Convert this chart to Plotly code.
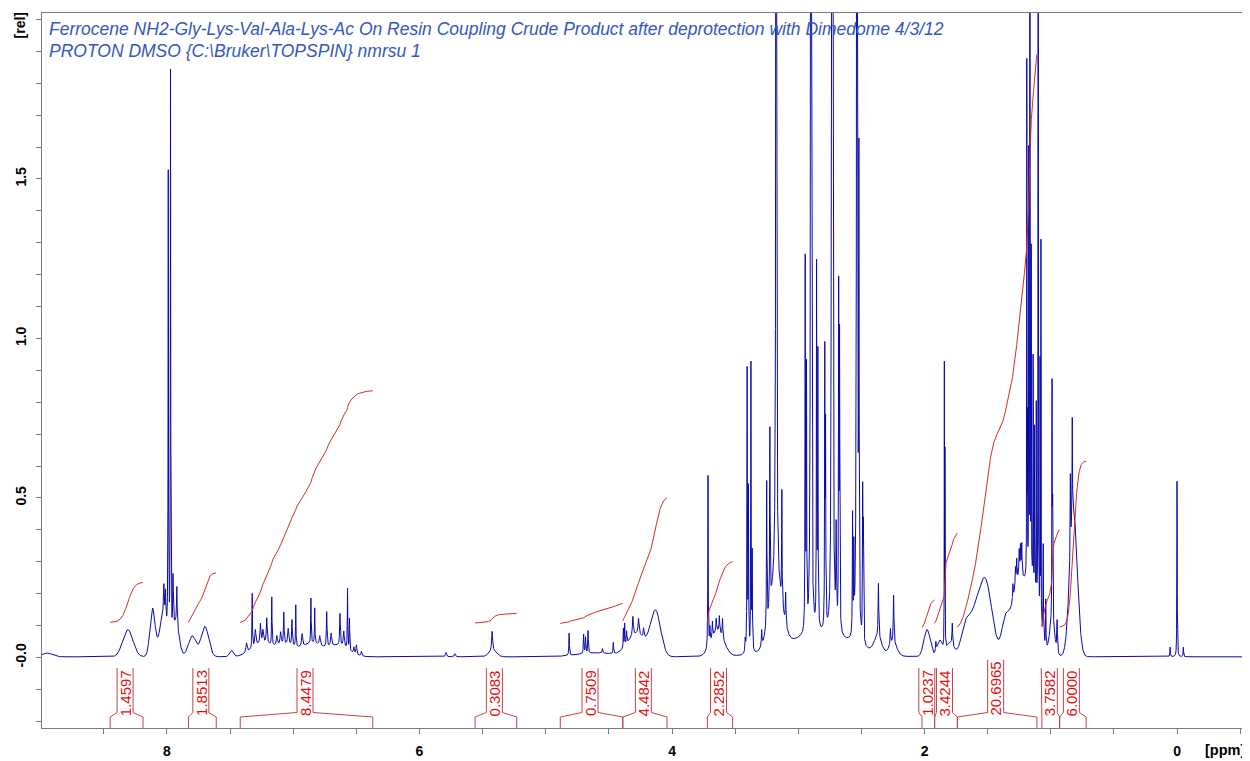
import numpy as np
import plotly.graph_objects as go

# ---------------- data ----------------
# sharp lines (Lorentzian): position [ppm], height [rel], half width [ppm]
line_ppm = [8.025, 8.012, 7.990, 7.972, 7.952, 7.922,
            7.370, 7.325, 7.300, 7.260, 7.240, 7.210, 7.170, 7.130, 7.100,
            7.075, 7.040, 7.010, 6.980, 6.930, 6.860, 6.830,
            6.790, 6.735, 6.700, 6.630, 6.600,
            6.570, 6.555, 6.520, 6.500, 6.460,
            5.790, 5.720, 5.425,
            4.815, 4.700, 4.685, 4.665, 4.550, 4.465,
            4.385, 4.375, 4.360, 4.310, 4.265, 4.225,
            3.715, 3.700, 3.680, 3.650, 3.625, 3.600,
            3.420, 3.405, 3.395, 3.375, 3.365,
            3.290, 3.250, 3.225, 3.175, 3.130, 3.100,
            2.945, 2.935, 2.900, 2.895, 2.855, 2.845,
            2.790, 2.784, 2.735, 2.727, 2.700, 2.680, 2.673,
            2.570, 2.560, 2.535, 2.520, 2.490, 2.485,
            2.365, 2.270, 2.245,
            1.910, 1.843, 1.838, 1.780,
            1.300, 1.280, 1.270, 1.250, 1.240, 1.230,
            1.190, 1.185, 1.175, 1.165, 1.155, 1.140, 1.128, 1.115, 1.100,
            1.085, 1.078, 1.060, 1.040,
            0.990, 0.985, 0.950, 0.845, 0.830,
            0.055, 0.000, -0.050]
line_height = [0.10, 0.09, 1.45, 1.78, 0.17, 0.12,
               0.03, 0.17, 0.05, 0.06, 0.04, 0.08, 0.15, 0.03, 0.04,
               0.10, 0.05, 0.08, 0.13, 0.04, 0.14, 0.11,
               0.03, 0.11, 0.04, 0.10, 0.05,
               0.19, 0.10, 0.02, 0.03, 0.015,
               0.014, 0.010, 0.060,
               0.070, 0.060, 0.050, 0.070, 0.015, 0.035,
               0.060, 0.070, 0.040, 0.060, 0.050, 0.030,
               0.54, 0.05, 0.05, 0.04, 0.05, 0.06,
               0.04, 0.88, 0.50, 0.90, 0.30,
               0.05, 0.45, 0.55, 4.00, 0.35, 0.10,
               1.15, 0.80, 4.00, 1.00, 1.12, 0.85,
               0.84, 0.60, 4.00, 4.00, 0.30, 1.04, 0.90,
               0.37, 0.25, 5.00, 1.40, 0.45, 0.33,
               0.17, 0.05, 0.15,
               0.03, 0.88, 0.60, 0.07,
               0.05, 0.06, 0.07, 0.08, 0.09, 0.10,
               1.60, 0.45, 1.30, 4.00, 1.00, 0.70, 0.50, 0.60, 4.00,
               0.80, 1.20, 0.30, 0.15,
               0.72, 0.35, 0.10, 0.25, 0.32,
               0.03, 0.55, 0.03]
line_hwhm = [0.004, 0.003, 0.0018, 0.0018, 0.003, 0.003,
             0.006, 0.002, 0.005, 0.004, 0.005, 0.004, 0.002, 0.005, 0.005,
             0.003, 0.005, 0.003, 0.002, 0.005, 0.002, 0.002,
             0.005, 0.003, 0.005, 0.003, 0.005,
             0.002, 0.002, 0.004, 0.004, 0.004,
             0.005, 0.005, 0.004,
             0.0025, 0.0025, 0.0025, 0.0025, 0.003, 0.0025,
             0.002, 0.002, 0.003, 0.004, 0.005, 0.004,
             0.0018, 0.003, 0.003, 0.003, 0.003, 0.003,
             0.003, 0.0018, 0.002, 0.0018, 0.002,
             0.003, 0.002, 0.002, 0.003, 0.002, 0.003,
             0.0018, 0.002, 0.003, 0.002, 0.0018, 0.002,
             0.0018, 0.002, 0.0025, 0.0025, 0.003, 0.0018, 0.002,
             0.002, 0.002, 0.003, 0.002, 0.002, 0.002,
             0.003, 0.003, 0.003,
             0.003, 0.001, 0.001, 0.003,
             0.003, 0.003, 0.003, 0.003, 0.003, 0.003,
             0.001, 0.001, 0.001, 0.001, 0.001, 0.001, 0.001, 0.001, 0.001,
             0.001, 0.001, 0.002, 0.002,
             0.0015, 0.002, 0.003, 0.002, 0.002,
             0.002, 0.0015, 0.002]

# broad humps (Gaussian): centre [ppm], height [rel], sigma [ppm]
hump_ppm = [8.95, 8.31, 8.115, 8.03, 7.93, 7.80, 7.70, 7.49,
            7.25, 7.05, 6.85, 6.65,
            5.42, 4.60, 4.28, 4.13, 3.64, 3.18, 3.00, 2.75,
            2.37, 2.25, 1.98, 1.88, 1.80, 1.68, 1.60, 1.51, 1.36, 1.26, 1.15, 0.99, 0.82]
hump_height = [0.012, 0.085, 0.15, 0.12, 0.10, 0.065, 0.095, 0.02,
               0.04, 0.035, 0.04, 0.035,
               0.02, 0.012, 0.07, 0.14, 0.08, 0.20, 0.03, 0.05,
               0.05, 0.04, 0.085, 0.05, 0.04, 0.05, 0.13, 0.19, 0.10, 0.22, 0.22, 0.10, 0.45]
hump_sigma = [0.04, 0.04, 0.02, 0.03, 0.025, 0.03, 0.03, 0.015,
              0.08, 0.08, 0.07, 0.08,
              0.03, 0.15, 0.07, 0.04, 0.05, 0.05, 0.20, 0.20,
              0.03, 0.03, 0.025, 0.02, 0.03, 0.03, 0.065, 0.05, 0.03, 0.05, 0.05, 0.02, 0.03]
baseline_offset = 0.002

# integrals: region start/end [ppm], curve start/end level [rel], label
int_start = [8.45, 7.83, 7.42, 5.56, 4.885, 4.39, 3.72, 2.02, 1.92, 1.74, 1.07, 0.93]
int_end = [8.19, 7.61, 6.37, 5.23, 4.39, 4.04, 3.52, 1.92, 1.74, 1.11, 0.93, 0.72]
int_level0 = [0.110, 0.110, 0.110, 0.108, 0.107, 0.115, 0.110, 0.094, 0.107, 0.095, 0.095, 0.095]
int_level1 = [0.235, 0.265, 0.836, 0.138, 0.170, 0.500, 0.300, 0.180, 0.390, 1.890, 0.400, 0.615]
int_labels = ["1.4597", "1.8513", "8.4479", "0.3083", "0.7509", "4.4842",
              "2.2852", "1.0237", "3.4244", "20.6965", "3.7582", "6.0000"]

x_tick_vals = [8.5, 8.0, 7.5, 7.0, 6.5, 6.0, 5.5, 5.0, 4.5, 4.0, 3.5, 3.0,
               2.5, 2.0, 1.5, 1.0, 0.5, 0.0, -0.5]
x_tick_text = {8.0: "8", 6.0: "6", 4.0: "4", 2.0: "2", 0.0: "0"}
y_tick_vals = [round(-0.2 + 0.1 * i, 1) for i in range(23)]
y_tick_text = {0.0: "-0.0", 0.5: "0.5", 1.0: "1.0", 1.5: "1.5"}

title_lines = ["Ferrocene NH2-Gly-Lys-Val-Ala-Lys-Ac On Resin Coupling Crude Product after deprotection with Dimedome 4/3/12",
               "PROTON DMSO {C:\\Bruker\\TOPSPIN} nmrsu 1"]

X_MIN, X_MAX = -0.562, 8.99
Y_MIN, Y_MAX = -0.221, 2.020

# ---------------- build spectrum ----------------
grid = np.arange(X_MIN, X_MAX + 0.0005, 0.0005)
xg = np.unique(np.concatenate([grid, np.array(line_ppm)]))[::-1]
lp = np.array(line_ppm)[:, None]
lh = np.array(line_height)[:, None]
lw = np.array(line_hwhm)[:, None]
spec = (lh * lw ** 2 / ((xg[None, :] - lp) ** 2 + lw ** 2)).sum(axis=0)
hp = np.array(hump_ppm)[:, None]
hh = np.array(hump_height)[:, None]
hs = np.array(hump_sigma)[:, None]
spec += (hh * np.exp(-0.5 * ((xg[None, :] - hp) / hs) ** 2)).sum(axis=0)
spec += baseline_offset

fig = go.Figure()
fig.add_trace(go.Scatter(x=xg, y=spec, mode="lines",
                         line=dict(color="#0a0aa8", width=1), hoverinfo="skip"))

# ---------------- integrals ----------------
PX_PER_PPM = 1206 / (X_MAX - X_MIN)
PX_PER_REL = 715 / (Y_MAX - Y_MIN)
red_curve = "#d42a2a"
red_bracket = "#c04545"
red_text = "#e01010"
y_bot = Y_MIN
y_sh1 = Y_MIN + 11 / PX_PER_REL
y_sh2 = Y_MIN + 15.5 / PX_PER_REL
y_txt_bottom = Y_MIN + 12 / PX_PER_REL
box_half = 8 / PX_PER_PPM
label_font = 15

for a, b, v0, v1, lab in zip(int_start, int_end, int_level0, int_level1, int_labels):
    m = (xg <= a) & (xg >= b)
    xs = xg[m]
    ys = spec[m]
    cum = np.concatenate([[0.0], np.cumsum(0.5 * (ys[1:] + ys[:-1]) * np.abs(np.diff(xs)))])
    curve = v0 + (v1 - v0) * cum / cum[-1]
    fig.add_trace(go.Scatter(x=xs, y=curve, mode="lines",
                             line=dict(color=red_curve, width=1), hoverinfo="skip"))
    bc = (a + b) / 2 + 0.012
    bl, br = bc + box_half, bc - box_half
    n_dig = sum(ch.isdigit() for ch in lab)
    txt_len = (n_dig * 0.556 + 0.278) * label_font / PX_PER_REL
    y_top = y_txt_bottom + txt_len + 2 / PX_PER_REL
    fig.add_trace(go.Scatter(
        x=[a, a, bl, bl, None, br, br, b, b],
        y=[y_bot, y_sh1, y_sh2, y_top, None, y_top, y_sh2, y_sh1, y_bot],
        mode="lines", line=dict(color=red_bracket, width=1), hoverinfo="skip",
        cliponaxis=False))
    fig.add_annotation(x=bc, y=y_txt_bottom + txt_len / 2, text=lab, textangle=-90,
                       showarrow=False, xanchor="center", yanchor="middle",
                       font=dict(family="Liberation Sans, Arial", size=label_font, color=red_text))

# ---------------- titles / units ----------------
title_font = dict(family="Liberation Sans, Arial", size=17.5, color="#3357c0", style="italic")
fig.add_annotation(xref="paper", yref="paper", x=0.004, y=0.977, text=title_lines[0],
                   showarrow=False, xanchor="left", yanchor="middle", font=title_font)
fig.add_annotation(xref="paper", yref="paper", x=0.004, y=0.947, text=title_lines[1],
                   showarrow=False, xanchor="left", yanchor="middle", font=title_font)
fig.add_annotation(xref="paper", yref="paper", x=-0.018, y=0.983, text="[rel]", textangle=-90,
                   showarrow=False, xanchor="center", yanchor="middle",
                   font=dict(family="Liberation Sans, Arial", size=14, color="black", weight="bold"))
fig.add_annotation(xref="paper", yref="paper", x=0.981, y=-0.031, text="[ppm]",
                   showarrow=False, xanchor="center", yanchor="middle",
                   font=dict(family="Liberation Sans, Arial", size=14.5, color="black", weight="bold"))

axis_common = dict(showline=True, mirror=True, linecolor="#7a7a7a", linewidth=1,
                   ticks="outside", ticklen=5, tickcolor="#7a7a7a", showgrid=False,
                   zeroline=False, tickmode="array", automargin=False,
                   tickfont=dict(family="Liberation Sans, Arial", size=14, color="black", weight="bold"))
# the page body adds an 8 px margin, so the figure is 8 px smaller and margins shifted
fig.update_layout(
    width=1242, height=753,
    margin=dict(l=34, r=2, t=5, b=33),
    paper_bgcolor="white", plot_bgcolor="white",
    showlegend=False,
    xaxis=dict(range=[X_MAX, X_MIN], tickvals=x_tick_vals, ticklabelstandoff=5,
               ticktext=[x_tick_text.get(v, "") for v in x_tick_vals], **axis_common),
    yaxis=dict(range=[Y_MIN, Y_MAX], tickvals=y_tick_vals, ticklabelstandoff=4,
               ticktext=[y_tick_text.get(v, "") for v in y_tick_vals], tickangle=-90,
               **axis_common),
)

fig.write_html("out.html")
